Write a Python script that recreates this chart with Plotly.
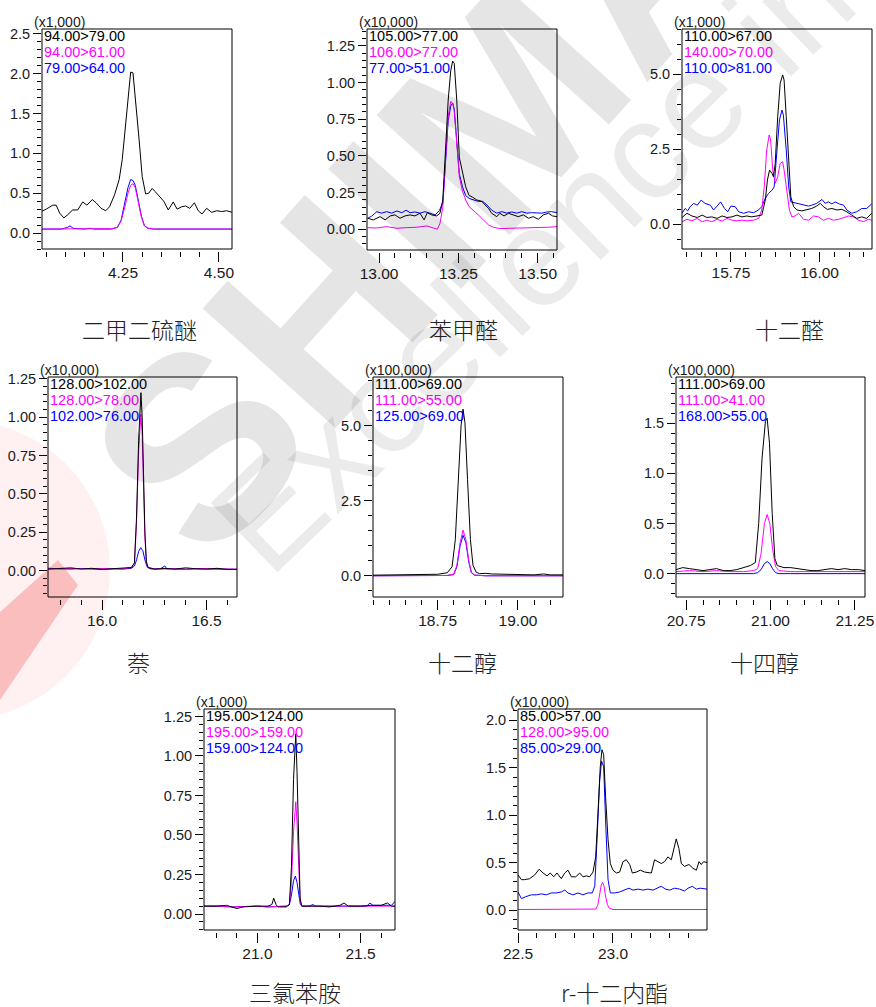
import plotly.graph_objects as go

W, H = 876, 1007
FONT = "Liberation Sans, Arial, sans-serif"
CJK = "Noto Sans CJK SC, sans-serif"
BLACK, MAGENTA, BLUE = "#000000", "#ff00ff", "#0000ff"

# ---------------- 二甲二硫醚 (x1,000) ----------------
p1_t_black = [4.037, 4.050, 4.067, 4.076, 4.085, 4.096, 4.106, 4.119, 4.132, 4.145, 4.156, 4.170,
              4.180, 4.193, 4.205, 4.215, 4.228, 4.240, 4.248, 4.257, 4.266, 4.270, 4.276, 4.283,
              4.292, 4.300, 4.309, 4.317, 4.326, 4.334, 4.346, 4.356, 4.368, 4.381, 4.391, 4.403,
              4.413, 4.424, 4.436, 4.446, 4.456, 4.468, 4.481, 4.494, 4.507, 4.520, 4.535]
p1_black = [0.27, 0.30, 0.35, 0.35, 0.25, 0.19, 0.23, 0.29, 0.29, 0.39, 0.35, 0.42,
            0.38, 0.31, 0.28, 0.33, 0.48, 0.67, 0.92, 1.38, 1.80, 2.02, 2.01, 1.68,
            1.17, 0.71, 0.49, 0.50, 0.56, 0.52, 0.46, 0.40, 0.29, 0.39, 0.30, 0.33,
            0.34, 0.31, 0.38, 0.28, 0.24, 0.31, 0.26, 0.28, 0.27, 0.28, 0.26]
p1_t_mag = [4.037, 4.100, 4.200, 4.220, 4.235, 4.245, 4.255, 4.263, 4.270, 4.276, 4.282, 4.290,
            4.298, 4.306, 4.315, 4.330, 4.400, 4.535]
p1_mag = [0.05, 0.05, 0.05, 0.055, 0.07, 0.15, 0.33, 0.50, 0.60, 0.62, 0.57, 0.40,
          0.20, 0.09, 0.06, 0.05, 0.05, 0.05]
p1_t_blue = [4.037, 4.090, 4.105, 4.112, 4.120, 4.150, 4.165, 4.175, 4.220, 4.235, 4.245, 4.255,
             4.263, 4.270, 4.276, 4.282, 4.290, 4.298, 4.306, 4.315, 4.330, 4.400, 4.450, 4.535]
p1_blue = [0.05, 0.05, 0.07, 0.09, 0.06, 0.05, 0.06, 0.05, 0.05, 0.07, 0.16, 0.38,
           0.57, 0.67, 0.66, 0.60, 0.42, 0.21, 0.09, 0.06, 0.05, 0.05, 0.05, 0.05]

# ---------------- 苯甲醛 (x10,000) ----------------
p2_t_black = [12.964, 12.982, 13.003, 13.019, 13.035, 13.050, 13.066, 13.082, 13.098, 13.113,
              13.129, 13.142, 13.152, 13.166, 13.182, 13.192, 13.201, 13.210, 13.218, 13.226,
              13.232, 13.237, 13.245, 13.253, 13.263, 13.273, 13.284, 13.294, 13.308, 13.324,
              13.334, 13.345, 13.355, 13.371, 13.381, 13.394, 13.408, 13.423, 13.439, 13.455,
              13.471, 13.486, 13.502, 13.518, 13.534, 13.547, 13.561]
p2_black = [0.075, 0.064, 0.086, 0.064, 0.091, 0.098, 0.075, 0.091, 0.098, 0.091,
            0.109, 0.064, 0.113, 0.098, 0.091, 0.109, 0.20, 0.54, 0.88, 1.08,
            1.146, 1.13, 0.88, 0.49, 0.38, 0.29, 0.23, 0.22, 0.20, 0.19,
            0.166, 0.143, 0.109, 0.086, 0.109, 0.091, 0.109, 0.098, 0.086, 0.098,
            0.075, 0.086, 0.068, 0.098, 0.109, 0.091, 0.086]
p2_t_mag = [12.964, 12.993, 13.024, 13.056, 13.087, 13.119, 13.150, 13.171, 13.184, 13.192,
            13.201, 13.210, 13.218, 13.226, 13.232, 13.237, 13.245, 13.253, 13.263, 13.273,
            13.284, 13.297, 13.313, 13.329, 13.345, 13.360, 13.381, 13.413, 13.444, 13.476,
            13.507, 13.534, 13.561]
p2_mag = [0.011, 0.009, 0.018, 0.007, 0.011, 0.014, 0.023, 0.007, 0.0, 0.04,
          0.15, 0.49, 0.77, 0.87, 0.86, 0.81, 0.59, 0.36, 0.26, 0.20,
          0.154, 0.13, 0.098, 0.064, 0.03, 0.014, 0.005, 0.007, 0.009, 0.007,
          0.011, 0.014, 0.018]
p2_t_blue = [12.964, 12.977, 12.993, 13.008, 13.024, 13.040, 13.056, 13.072, 13.085, 13.098,
             13.113, 13.129, 13.145, 13.161, 13.177, 13.190, 13.201, 13.210, 13.218, 13.226,
             13.232, 13.237, 13.245, 13.253, 13.263, 13.273, 13.284, 13.297, 13.313, 13.327,
             13.340, 13.355, 13.371, 13.387, 13.403, 13.418, 13.434, 13.450, 13.466, 13.481,
             13.497, 13.513, 13.529, 13.544, 13.561]
p2_blue = [0.075, 0.09, 0.12, 0.11, 0.12, 0.11, 0.125, 0.113, 0.13, 0.113,
           0.118, 0.11, 0.12, 0.11, 0.098, 0.127, 0.18, 0.47, 0.74, 0.84,
           0.86, 0.82, 0.61, 0.38, 0.29, 0.23, 0.21, 0.20, 0.19, 0.19,
           0.166, 0.13, 0.11, 0.12, 0.11, 0.118, 0.11, 0.12, 0.11, 0.113,
           0.11, 0.11, 0.118, 0.12, 0.113]

# ---------------- 十二醛 (x1,000) ----------------
p3_t_black = [15.612, 15.626, 15.640, 15.655, 15.669, 15.682, 15.696, 15.711, 15.725, 15.739,
              15.753, 15.767, 15.781, 15.795, 15.809, 15.823, 15.837, 15.847, 15.853, 15.859,
              15.866, 15.870, 15.875, 15.882, 15.889, 15.896, 15.900, 15.906, 15.913, 15.919,
              15.927, 15.936, 15.950, 15.964, 15.978, 15.992, 16.002, 16.011, 16.022, 16.035,
              16.049, 16.063, 16.077, 16.091, 16.105, 16.119, 16.133, 16.147]
p3_black = [0.22, 0.36, 0.27, 0.22, 0.30, 0.22, 0.24, 0.19, 0.27, 0.22,
            0.24, 0.30, 0.24, 0.27, 0.24, 0.27, 0.30, 0.80, 1.47, 1.80,
            1.69, 1.58, 2.02, 3.58, 4.69, 4.97, 4.80, 3.58, 1.91, 0.91,
            0.58, 0.47, 0.44, 0.49, 0.52, 0.60, 0.69, 0.58, 0.49, 0.52,
            0.47, 0.49, 0.41, 0.30, 0.19, 0.24, 0.19, 0.36]
p3_t_mag = [15.612, 15.626, 15.640, 15.655, 15.669, 15.682, 15.696, 15.711, 15.725, 15.739,
            15.753, 15.767, 15.781, 15.795, 15.814, 15.828, 15.837, 15.844, 15.851, 15.858,
            15.862, 15.868, 15.875, 15.882, 15.889, 15.896, 15.900, 15.908, 15.915, 15.922,
            15.931, 15.941, 15.955, 15.969, 15.983, 15.997, 16.011, 16.025, 16.039, 16.054,
            16.068, 16.082, 16.096, 16.110, 16.124, 16.138, 16.147]
p3_mag = [0.08, 0.16, 0.11, 0.19, 0.08, 0.13, 0.08, 0.16, 0.10, 0.19,
          0.13, 0.11, 0.13, 0.11, 0.13, 0.19, 0.47, 1.24, 2.47, 2.97,
          2.80, 1.80, 1.36, 1.58, 2.02, 2.08, 1.80, 1.02, 0.47, 0.24,
          0.27, 0.36, 0.16, 0.13, 0.27, 0.24, 0.13, 0.19, 0.13, 0.16,
          0.22, 0.27, 0.24, 0.13, 0.08, 0.16, 0.13]
p3_t_blue = [15.612, 15.621, 15.628, 15.635, 15.645, 15.655, 15.666, 15.677, 15.692, 15.701,
             15.711, 15.721, 15.732, 15.741, 15.750, 15.762, 15.772, 15.786, 15.800, 15.814,
             15.828, 15.837, 15.847, 15.856, 15.866, 15.872, 15.880, 15.887, 15.894, 15.898,
             15.906, 15.913, 15.919, 15.929, 15.941, 15.955, 15.969, 15.978, 15.992, 16.007,
             16.016, 16.025, 16.035, 16.044, 16.056, 16.068, 16.077, 16.091, 16.105, 16.119,
             16.133, 16.147]
p3_blue = [0.36, 0.52, 0.44, 0.58, 0.69, 0.63, 0.80, 0.69, 0.63, 0.47,
           0.60, 0.74, 0.52, 0.41, 0.60, 0.58, 0.41, 0.36, 0.41, 0.38,
           0.47, 0.58, 0.86, 1.02, 1.13, 1.24, 2.47, 3.47, 3.80, 3.63,
           2.47, 1.24, 0.74, 0.71, 0.67, 0.63, 0.60, 0.63, 0.69, 0.82,
           0.69, 0.74, 0.67, 0.74, 0.67, 0.63, 0.47, 0.36, 0.41, 0.52,
           0.52, 0.67]

# ---------------- 萘 (x10,000) ----------------
p4_t_black = [15.741, 15.80, 15.85, 15.90, 15.95, 16.00, 16.05, 16.10, 16.14, 16.155,
              16.165, 16.175, 16.182, 16.186, 16.192, 16.198, 16.205, 16.212, 16.22, 16.25,
              16.30, 16.35, 16.40, 16.45, 16.50, 16.55, 16.60, 16.646]
p4_black = [0.010, 0.012, 0.018, 0.010, 0.015, 0.008, 0.012, 0.015, 0.02, 0.05,
            0.35, 0.85, 1.12, 1.16, 1.00, 0.60, 0.25, 0.06, 0.02, 0.01,
            0.014, 0.010, 0.018, 0.012, 0.010, 0.015, 0.008, 0.008]
p4_t_mag = p4_t_black
p4_mag = [0.012, 0.010, 0.014, 0.012, 0.010, 0.014, 0.010, 0.012, 0.02, 0.05,
          0.32, 0.78, 1.00, 1.02, 0.88, 0.52, 0.22, 0.05, 0.02, 0.012,
          0.010, 0.014, 0.010, 0.012, 0.014, 0.010, 0.012, 0.010]
p4_t_blue = [15.741, 15.80, 15.85, 15.90, 15.95, 16.00, 16.05, 16.10, 16.14, 16.155,
             16.165, 16.175, 16.185, 16.195, 16.205, 16.215, 16.23, 16.25, 16.28, 16.30,
             16.31, 16.35, 16.40, 16.45, 16.50, 16.55, 16.60, 16.646]
p4_blue = [0.015, 0.012, 0.010, 0.014, 0.010, 0.008, 0.012, 0.010, 0.015, 0.03,
           0.07, 0.125, 0.15, 0.13, 0.07, 0.025, 0.012, 0.010, 0.012, 0.03,
           0.012, 0.010, 0.008, 0.012, 0.010, 0.008, 0.010, 0.008]

# ---------------- 十二醇 (x100,000) ----------------
p5_t_black = [18.549, 18.60, 18.65, 18.70, 18.75, 18.78, 18.795, 18.805, 18.815, 18.823,
              18.829, 18.835, 18.843, 18.852, 18.86, 18.87, 18.88, 18.90, 18.92, 18.95,
              19.00, 19.05, 19.08, 19.10, 19.14]
p5_black = [0.02, 0.03, 0.04, 0.04, 0.05, 0.10, 0.30, 1.20, 3.20, 5.00,
            5.55, 5.10, 3.20, 1.20, 0.35, 0.12, 0.07, 0.08, 0.06, 0.05,
            0.04, 0.03, 0.06, 0.03, 0.03]
p5_t_mag = [18.549, 18.70, 18.78, 18.80, 18.81, 18.82, 18.829, 18.838, 18.847, 18.855,
            18.865, 18.90, 19.00, 19.14]
p5_mag = [0.0, 0.0, 0.01, 0.05, 0.35, 1.10, 1.52, 1.20, 0.50, 0.12,
          0.02, 0.0, 0.0, 0.0]
p5_t_blue = p5_t_mag
p5_blue = [0.0, 0.0, 0.01, 0.04, 0.30, 1.00, 1.35, 1.10, 0.45, 0.10,
           0.02, 0.0, 0.0, 0.0]

# ---------------- 十四醇 (x100,000) ----------------
p6_t_black = [20.720, 20.74, 20.76, 20.78, 20.80, 20.82, 20.84, 20.86, 20.88, 20.90,
              20.92, 20.94, 20.955, 20.965, 20.975, 20.985, 20.990, 20.997, 21.005, 21.013,
              21.02, 21.04, 21.06, 21.08, 21.10, 21.12, 21.14, 21.16, 21.18, 21.20,
              21.22, 21.24, 21.26, 21.28]
p6_black = [0.04, 0.06, 0.05, 0.04, 0.03, 0.04, 0.05, 0.03, 0.03, 0.04,
            0.06, 0.08, 0.11, 0.50, 1.15, 1.52, 1.55, 1.30, 0.60, 0.15,
            0.08, 0.06, 0.06, 0.05, 0.04, 0.03, 0.03, 0.04, 0.05, 0.04,
            0.05, 0.04, 0.04, 0.03]
p6_t_mag = [20.720, 20.76, 20.80, 20.84, 20.88, 20.92, 20.95, 20.962, 20.972, 20.982,
            20.990, 20.998, 21.006, 21.015, 21.025, 21.06, 21.10, 21.16, 21.22, 21.28]
p6_mag = [0.02, 0.03, 0.02, 0.03, 0.02, 0.02, 0.03, 0.05, 0.20, 0.50,
          0.59, 0.50, 0.25, 0.07, 0.03, 0.02, 0.02, 0.02, 0.02, 0.02]
p6_t_blue = p6_t_mag
p6_blue = [0.0, 0.0, 0.0, 0.0, 0.0, 0.0, 0.0, 0.01, 0.04, 0.10,
           0.12, 0.10, 0.05, 0.01, 0.0, 0.0, 0.0, 0.0, 0.0, 0.0]

# ---------------- 三氯苯胺 (x1,000) ----------------
p7_t_black = [20.741, 20.80, 20.85, 20.88, 20.90, 20.93, 20.97, 21.00, 21.05, 21.07,
              21.079, 21.09, 21.10, 21.14, 21.155, 21.165, 21.175, 21.182, 21.186, 21.192,
              21.200, 21.207, 21.215, 21.25, 21.30, 21.35, 21.40, 21.42, 21.44, 21.50,
              21.55, 21.60, 21.63, 21.65, 21.667]
p7_black = [0.05, 0.05, 0.055, 0.04, 0.035, 0.045, 0.05, 0.05, 0.05, 0.06,
            0.10, 0.06, 0.045, 0.045, 0.06, 0.30, 0.85, 1.12, 1.14, 0.90,
            0.40, 0.10, 0.05, 0.05, 0.05, 0.045, 0.055, 0.07, 0.05, 0.05,
            0.055, 0.055, 0.07, 0.05, 0.05]
p7_t_mag = [20.741, 20.80, 20.88, 20.95, 21.00, 21.05, 21.10, 21.14, 21.155, 21.165,
            21.175, 21.182, 21.186, 21.192, 21.200, 21.207, 21.215, 21.25, 21.30, 21.40,
            21.50, 21.60, 21.667]
p7_mag = [0.05, 0.05, 0.045, 0.05, 0.05, 0.045, 0.05, 0.05, 0.06, 0.20,
          0.52, 0.69, 0.71, 0.58, 0.28, 0.08, 0.05, 0.05, 0.05, 0.05,
          0.05, 0.05, 0.05]
p7_t_blue = [20.741, 20.80, 20.88, 20.95, 21.00, 21.05, 21.10, 21.14, 21.155, 21.165,
             21.175, 21.184, 21.192, 21.200, 21.208, 21.218, 21.25, 21.27, 21.28, 21.30,
             21.40, 21.50, 21.53, 21.545, 21.56, 21.60, 21.65, 21.667]
p7_blue = [0.05, 0.05, 0.045, 0.05, 0.05, 0.045, 0.05, 0.05, 0.06, 0.12,
           0.21, 0.24, 0.20, 0.11, 0.06, 0.05, 0.05, 0.06, 0.05, 0.05,
           0.05, 0.05, 0.05, 0.07, 0.055, 0.055, 0.055, 0.08]

# ---------------- r-十二内酯 (x10,000) ----------------
p8_t_black = [22.500, 22.518, 22.535, 22.561, 22.588, 22.611, 22.632, 22.653, 22.670, 22.688,
              22.705, 22.728, 22.746, 22.763, 22.781, 22.804, 22.825, 22.842, 22.860, 22.877,
              22.895, 22.909, 22.921, 22.933, 22.942, 22.951, 22.961, 22.974, 22.986, 23.000,
              23.018, 23.035, 23.053, 23.070, 23.088, 23.102, 23.123, 23.144, 23.167, 23.189,
              23.202, 23.219, 23.237, 23.254, 23.272, 23.289, 23.307, 23.319, 23.333, 23.347,
              23.360, 23.377, 23.400, 23.421, 23.439, 23.453, 23.465, 23.477, 23.495]
p8_black = [0.37, 0.32, 0.32, 0.33, 0.37, 0.43, 0.39, 0.36, 0.39, 0.35,
            0.39, 0.33, 0.39, 0.42, 0.35, 0.35, 0.39, 0.35, 0.36, 0.35,
            0.40, 0.56, 1.02, 1.51, 1.69, 1.64, 1.20, 0.74, 0.49, 0.42,
            0.39, 0.40, 0.51, 0.53, 0.48, 0.39, 0.40, 0.42, 0.40, 0.39,
            0.39, 0.53, 0.51, 0.49, 0.51, 0.56, 0.53, 0.63, 0.75, 0.65,
            0.49, 0.46, 0.48, 0.44, 0.42, 0.51, 0.48, 0.51, 0.50]
p8_t_mag = [22.500, 22.60, 22.70, 22.80, 22.900, 22.910, 22.920, 22.930, 22.938, 22.945,
            22.952, 22.960, 22.970, 22.980, 22.990, 23.000, 23.100, 23.200, 23.300, 23.400,
            23.495]
p8_mag = [0.005, 0.005, 0.005, 0.005, 0.005, 0.01, 0.05, 0.16, 0.26, 0.29,
          0.26, 0.16, 0.06, 0.02, 0.01, 0.005, 0.005, 0.005, 0.008, 0.005,
          0.005]
p8_t_blue = [22.500, 22.518, 22.540, 22.570, 22.596, 22.623, 22.649, 22.675, 22.702, 22.728,
             22.746, 22.763, 22.789, 22.816, 22.842, 22.868, 22.891, 22.904, 22.916, 22.930,
             22.940, 22.951, 22.961, 22.974, 22.986, 23.009, 23.035, 23.061, 23.084, 23.105,
             23.132, 23.158, 23.184, 23.211, 23.237, 23.254, 23.277, 23.298, 23.325, 23.351,
             23.377, 23.395, 23.418, 23.439, 23.460, 23.482, 23.495]
p8_blue = [0.19, 0.12, 0.14, 0.16, 0.16, 0.17, 0.16, 0.18, 0.18, 0.19,
           0.21, 0.18, 0.16, 0.18, 0.16, 0.18, 0.18, 0.25, 0.74, 1.37,
           1.57, 1.51, 0.95, 0.32, 0.18, 0.18, 0.19, 0.21, 0.23, 0.21,
           0.22, 0.21, 0.22, 0.21, 0.23, 0.25, 0.22, 0.21, 0.23, 0.22,
           0.20, 0.23, 0.25, 0.22, 0.23, 0.22, 0.22]

# Compound captions, MRM transitions and intensity multipliers
captions = ["二甲二硫醚", "苯甲醛", "十二醛", "萘", "十二醇", "十四醇", "三氯苯胺", "r-十二内酯"]
scales = ["(x1,000)", "(x10,000)", "(x1,000)", "(x10,000)",
          "(x100,000)", "(x100,000)", "(x1,000)", "(x10,000)"]
transitions = [
    ["94.00>79.00", "94.00>61.00", "79.00>64.00"],
    ["105.00>77.00", "106.00>77.00", "77.00>51.00"],
    ["110.00>67.00", "140.00>70.00", "110.00>81.00"],
    ["128.00>102.00", "128.00>78.00", "102.00>76.00"],
    ["111.00>69.00", "111.00>55.00", "125.00>69.00"],
    ["111.00>69.00", "111.00>41.00", "168.00>55.00"],
    ["195.00>124.00", "195.00>159.00", "159.00>124.00"],
    ["85.00>57.00", "128.00>95.00", "85.00>29.00"],
]
series = [
    [(p1_t_black, p1_black), (p1_t_mag, p1_mag), (p1_t_blue, p1_blue)],
    [(p2_t_black, p2_black), (p2_t_mag, p2_mag), (p2_t_blue, p2_blue)],
    [(p3_t_black, p3_black), (p3_t_mag, p3_mag), (p3_t_blue, p3_blue)],
    [(p4_t_black, p4_black), (p4_t_mag, p4_mag), (p4_t_blue, p4_blue)],
    [(p5_t_black, p5_black), (p5_t_mag, p5_mag), (p5_t_blue, p5_blue)],
    [(p6_t_black, p6_black), (p6_t_mag, p6_mag), (p6_t_blue, p6_blue)],
    [(p7_t_black, p7_black), (p7_t_mag, p7_mag), (p7_t_blue, p7_blue)],
    [(p8_t_black, p8_black), (p8_t_mag, p8_mag), (p8_t_blue, p8_blue)],
]

# Panel geometry in pixels (left, top, right, bottom), axis ranges and ticks
layouts = [
    dict(box=(42, 29, 232, 249), xr=(4.039, 4.534), yr=(-0.20, 2.56),
         x0=4.25, xd=0.25, xm=0.05, xf=".2f", yd=0.5, ym=0.1, yf=".1f", cap=(139, 329)),
    dict(box=(367, 29, 557, 250), xr=(12.962, 13.561), yr=(-0.141, 1.364),
         x0=13.0, xd=0.25, xm=0.05, xf=".2f", yd=0.25, ym=0.05, yf=".2f", cap=(463, 329)),
    dict(box=(682, 29, 872, 249), xr=(15.612, 16.148), yr=(-0.83, 6.5),
         x0=15.75, xd=0.25, xm=0.25 / 6, xf=".2f", yd=2.5, ym=0.5, yf=".1f", cap=(789, 329)),
    dict(box=(48, 377, 237, 597), xr=(15.741, 16.646), yr=(-0.172, 1.262),
         x0=16.0, xd=0.5, xm=0.1, xf=".1f", yd=0.25, ym=0.05, yf=".2f", cap=(138, 662)),
    dict(box=(373, 377, 563, 597), xr=(18.549, 19.140), yr=(-0.707, 6.62),
         x0=18.75, xd=0.25, xm=0.05, xf=".2f", yd=2.5, ym=0.5, yf=".1f", cap=(462, 662)),
    dict(box=(676, 377, 865, 597), xr=(20.720, 21.280), yr=(-0.233, 1.96),
         x0=20.75, xd=0.25, xm=0.05, xf=".2f", yd=0.5, ym=0.1, yf=".1f", cap=(764, 662)),
    dict(box=(204, 709, 395, 930), xr=(20.741, 21.667), yr=(-0.101, 1.297),
         x0=21.0, xd=0.5, xm=0.1, xf=".1f", yd=0.25, ym=0.05, yf=".2f", cap=(295, 992)),
    dict(box=(518, 709, 707, 930), xr=(22.5, 23.495), yr=(-0.211, 2.12),
         x0=22.5, xd=0.5, xm=0.1, xf=".1f", yd=0.5, ym=0.1, yf=".1f", cap=(614, 992)),
]

colors = [BLACK, MAGENTA, BLUE]
draw_order = [2, 1, 0]  # blue first, black on top

fig = go.Figure()
annotations = []
shapes = []

for i, lay in enumerate(layouts):
    n = i + 1
    sfx = "" if n == 1 else str(n)
    xa, ya = "x" + sfx, "y" + sfx
    L, T, R, B = lay["box"]
    xdom = [L / W, R / W]
    ydom = [1 - B / H, 1 - T / H]

    for k in draw_order:
        t, v = series[i][k]
        fig.add_trace(go.Scatter(
            x=t, y=v, mode="lines", xaxis=xa, yaxis=ya,
            line=dict(color=colors[k], width=1), showlegend=False, hoverinfo="skip"))

    fig.layout["xaxis" + sfx] = dict(
        domain=xdom, range=list(lay["xr"]), anchor="free", position=ydom[0] - 2 / H,
        showline=False, showgrid=False, zeroline=False, automargin=False,
        ticks="outside", ticklen=10, tickwidth=1, tickcolor="black",
        tick0=lay["x0"], dtick=lay["xd"], tickformat=lay["xf"], ticklabelstandoff=-3,
        tickfont=dict(family=FONT, size=15.5, color="#1a1a1a"),
        minor=dict(tick0=lay["x0"], dtick=lay["xm"], ticks="outside", ticklen=5,
                   tickwidth=1, tickcolor="black", showgrid=False),
    )
    fig.layout["yaxis" + sfx] = dict(
        domain=ydom, range=list(lay["yr"]), anchor=xa,
        showline=False, showgrid=False, zeroline=False, automargin=False,
        ticks="outside", ticklen=8, tickwidth=1, tickcolor="black",
        tick0=0, dtick=lay["yd"], tickformat=lay["yf"],
        tickfont=dict(family=FONT, size=14.5, color="#1a1a1a"),
        minor=dict(tick0=0, dtick=lay["ym"], ticks="outside", ticklen=4,
                   tickwidth=1, tickcolor="black", showgrid=False),
    )

    # frame around the plotting area
    shapes.append(dict(type="rect", xref=xa + " domain", yref=ya + " domain",
                       x0=0, x1=1, y0=0, y1=1, line=dict(color="black", width=1),
                       fillcolor="rgba(0,0,0,0)", layer="above"))

    # multiplier above the frame
    annotations.append(dict(text=scales[i], xref=xa + " domain", yref=ya + " domain",
                            x=0, y=1, xanchor="left", yanchor="bottom", xshift=-10, yshift=-3,
                            showarrow=False, font=dict(family=FONT, size=14, color="#1a1a1a")))
    # transition labels inside the frame
    for k, off in enumerate([7, 23, 39]):
        annotations.append(dict(text=transitions[i][k], xref=xa + " domain", yref=ya + " domain",
                                x=0, y=1, xanchor="left", yanchor="middle", xshift=0, yshift=-off,
                                showarrow=False, font=dict(family=FONT, size=14.5, color=colors[k])))
    # compound caption
    cx, cy = lay["cap"]
    annotations.append(dict(text=captions[i], xref="paper", yref="paper",
                            x=cx / W, y=1 - cy / H, xanchor="center", yanchor="middle",
                            showarrow=False,
                            font=dict(family=CJK, size=23, color="#222222", weight=300)))

# faint background lettering
annotations.append(dict(text="<b>SHIMADZU</b>", xref="paper", yref="paper",
                        x=600 / W, y=1 - 0 / H, xanchor="center", yanchor="middle",
                        textangle=-48, showarrow=False,
                        font=dict(family="Liberation Sans, Arial", size=260, color="rgba(0,0,0,0.10)")))
annotations.append(dict(text="Excellence in Science", xref="paper", yref="paper",
                        x=725 / W, y=1 - 72 / H, xanchor="center", yanchor="middle",
                        textangle=-44, showarrow=False,
                        font=dict(family="Liberation Sans, Arial", size=140, color="rgba(0,0,0,0.08)")))


def px_path(points):
    return "M " + " L ".join(f"{x / W:.4f},{1 - y / H:.4f}" for x, y in points) + " Z"


# pale red emblem at the left edge
shapes.append(dict(type="circle", xref="paper", yref="paper",
                   x0=-190 / W, x1=110 / W, y0=1 - 720 / H, y1=1 - 420 / H,
                   line=dict(width=0), fillcolor="rgba(255,60,60,0.07)", layer="below"))
shapes.append(dict(type="path", xref="paper", yref="paper",
                   path=px_path([(0, 612), (58, 560), (78, 585), (0, 700)]),
                   line=dict(width=0), fillcolor="rgba(240,40,40,0.25)", layer="below"))

fig.update_layout(
    width=W, height=H, margin=dict(l=0, r=0, t=0, b=0, autoexpand=False),
    paper_bgcolor="white", plot_bgcolor="rgba(0,0,0,0)",
    annotations=annotations, shapes=shapes,
)

fig.write_html("out.html")
